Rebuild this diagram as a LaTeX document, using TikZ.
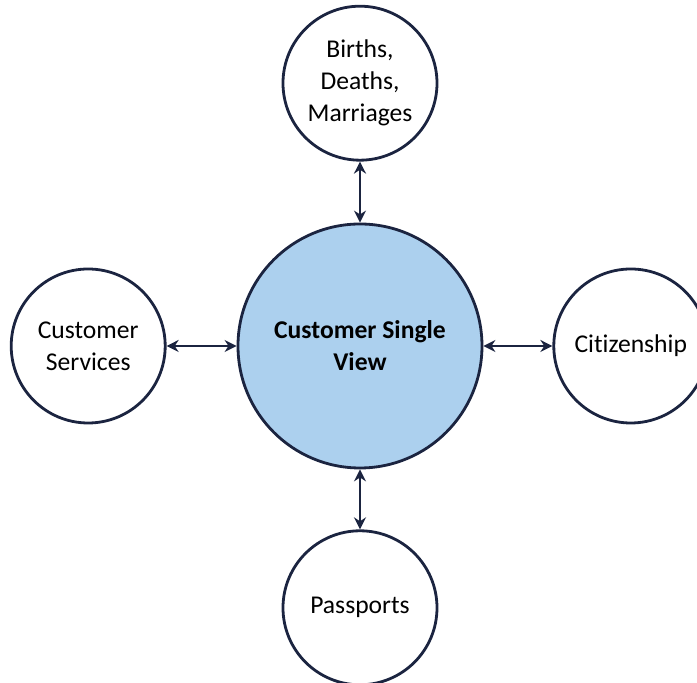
\documentclass[tikz,border=0pt]{standalone}
\usepackage{fontspec}
\setmainfont{Carlito}[Ligatures=CommonOff]
\usetikzlibrary{positioning,arrows.meta}
\definecolor{ringline}{RGB}{27,36,64}
\definecolor{viewfill}{RGB}{172,208,238}
\tikzstyle{every node}=[circle,draw=ringline,line width=1.4pt,inner sep=0pt,align=center,font=\fontsize{12.8}{16}\selectfont]
\tikzstyle{service}=[minimum size=77pt]
\tikzstyle{hub}=[minimum size=122pt,fill=viewfill,font=\fontsize{12.8}{16}\selectfont\bfseries]
\tikzstyle{link}=[draw=ringline,line width=1.1pt,arrows={Stealth[length=6pt,width=6pt]-Stealth[length=6pt,width=6pt]}]

\begin{document}
\begin{tikzpicture}
  \useasboundingbox (-180pt,-168.5pt) rectangle (168.5pt,173pt);
  \node [hub] (single) at (0,0) {Customer Single\\View};
  \node [service, above=30.5pt of single] (bdm) {Births,\\Deaths,\\Marriages};
  \node [service, left=35pt of single] (custserv) {Customer\\Services};
  \node [service, right=34.5pt of single] (citizen) {Citizenship};
  \node [service, below=30pt of single] (passports) {Passports};
  % links to the single view
  \draw [link] (single) -- (bdm);
  \draw [link] (single) -- (custserv);
  \draw [link] (single) -- (citizen);
  \draw [link] (single) -- (passports);
\end{tikzpicture}
\end{document}
